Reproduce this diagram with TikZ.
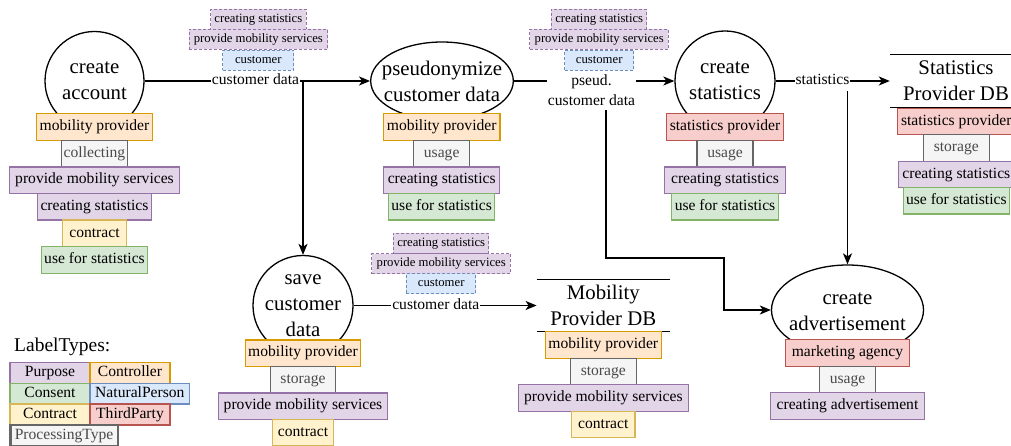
\documentclass[tikz,border=0pt]{standalone}
\usepackage{fontspec}
\setmainfont{Liberation Serif}
\usetikzlibrary{arrows.meta,shapes.geometric}

% label colours (fill / stroke)
\definecolor{purF}{HTML}{E1D5E7}\definecolor{purS}{HTML}{9673A6}
\definecolor{oraF}{HTML}{FFE6CC}\definecolor{oraS}{HTML}{D79B00}
\definecolor{greF}{HTML}{D5E8D4}\definecolor{greS}{HTML}{82B366}
\definecolor{bluF}{HTML}{DAE8FC}\definecolor{bluS}{HTML}{6C8EBF}
\definecolor{yelF}{HTML}{FFF2CC}\definecolor{yelS}{HTML}{D6B656}
\definecolor{redF}{HTML}{F8CECC}\definecolor{redS}{HTML}{B85450}
\definecolor{gryF}{HTML}{F5F5F5}\definecolor{gryS}{HTML}{666666}\definecolor{gryT}{HTML}{4A4A4A}

\newcommand{\procfont}{\fontsize{20.8}{26}\selectfont}
\newcommand{\tagfont}{\fontsize{15.6}{19.5}\selectfont}
\newcommand{\dtagfont}{\fontsize{12.7}{15}\selectfont}
\newcommand{\legfont}{\fontsize{19.5}{24}\selectfont}

\tikzset{
  flow/.style={line width=1.6pt, -{Stealth[length=11pt,width=9pt,inset=3pt]}},
  proc/.style={draw, line width=1.3pt, fill=white, inner sep=0pt},
  ntext/.style={font=\procfont, align=center, inner sep=0pt},
  elabel/.style={fill=white, inner sep=1pt, font=\tagfont, align=center},
  elabelone/.style={elabel, text height=11pt, text depth=4pt},
  tag/.style={draw, line width=1.2pt, inner sep=0pt, minimum height=26.5pt,
    font=\tagfont, text height=10.7pt, text depth=3.4pt, anchor=north},
  purp/.style={tag, fill=purF, draw=purS},
  ctrl/.style={tag, fill=oraF, draw=oraS},
  cons/.style={tag, fill=greF, draw=greS},
  cntr/.style={tag, fill=yelF, draw=yelS},
  thrd/.style={tag, fill=redF, draw=redS},
  ptype/.style={tag, fill=gryF, draw=gryS, text=gryT},
  dtag/.style={draw, line width=1pt, dash pattern=on 3pt off 2pt, inner sep=0pt,
    minimum height=20pt, font=\dtagfont, text height=8.7pt, text depth=2.8pt},
  dpurp/.style={dtag, fill=purF, draw=purS},
  dnatp/.style={dtag, fill=bluF, draw=bluS},
  leg/.style={draw, line width=1.4pt, inner sep=0pt, minimum height=20.8pt,
    font=\tagfont, text height=10.7pt, text depth=3.4pt, anchor=north west},
  dbline/.style={line width=1.3pt},
}

\begin{document}
\begin{tikzpicture}[x=1pt,y=-1pt]
\useasboundingbox (0,0) rectangle (1011,446);
\clip (0,0) rectangle (1011,446);

% processes
\node[proc, circle, minimum size=99pt] (acc) at (94.5,81) {};
\node[ntext] at (acc) {create\\account};
\node[proc, ellipse, minimum width=142.6pt, minimum height=78pt] (pseu) at (442,81) {};
\node[ntext] at (pseu) {pseudonymize\\customer data};
\node[proc, circle, minimum size=100pt] (stat) at (725,81) {};
\node[ntext] at (stat) {create\\statistics};
\node[proc, circle, minimum size=100pt] (save) at (303,305.5) {};
\node[ntext] at (save) {save\\customer\\data};
\node[proc, ellipse, minimum width=152pt, minimum height=90pt] (adv) at (847.5,310) {};
\node[ntext] at (847.5,312) {create\\advertisement};

% data stores
\node[ntext, minimum width=133pt, minimum height=52pt] (mdb) at (603.3,305.5) {Mobility\\Provider DB};
\draw[dbline] (mdb.north west) -- (mdb.north east) (mdb.south west) -- (mdb.south east);
\node[ntext, minimum width=132pt, minimum height=53pt] (sdb) at (956,81) {Statistics\\Provider DB};
\draw[dbline] (sdb.north west) -- (sdb.north east) (sdb.south west) -- (sdb.south east);

% data flows
\coordinate (p0) at (606,110);
\coordinate (p1) at (606,258);
\coordinate (p2) at (724,258);
\coordinate (s0) at (847.5,91.5);
\draw[flow] (acc.east) -- (pseu.west);
\draw[flow] (acc.east) -| (save.north);
\draw[flow] (pseu.east) -- (stat.west);
\draw[flow] (p0) -- (p1) -- (p2) |- (adv.west);
\draw[flow] (stat.east) -- (sdb.west);
\draw[flow] (s0) -- (adv.north);
\draw[flow] (save.east) -- (mdb.west);

% flow labels
\node[elabelone] (la) at (255.5,81) {customer data};
\node[elabel] (lb) at (591.5,90) {pseud.\\customer data};
\node[elabelone] (lc) at (822.5,81) {statistics};
\node[elabelone] (ld) at (435.8,305.5) {customer data};

% flow tags
\node[dpurp, minimum width=95.5pt] (ta1) at (258.3,19.3) {creating statistics};
\node[dpurp, minimum width=138.5pt] (ta2) at (258.3,39.3) {provide mobility services};
\node[dnatp, minimum width=71pt] (ta3) at (258.3,60.2) {customer};
\node[dpurp, minimum width=95.5pt] (tb1) at (599.2,19.3) {creating statistics};
\node[dpurp, minimum width=138.5pt] (tb2) at (599.2,39.3) {provide mobility services};
\node[dnatp, minimum width=69pt] (tb3) at (599.2,60.2) {customer};
\node[dpurp, minimum width=95.5pt] (tc1) at (441.2,243.5) {creating statistics};
\node[dpurp, minimum width=138.5pt] (tc2) at (441.2,263.8) {provide mobility services};
\node[dnatp, minimum width=69.5pt] (tc3) at (441.2,283.6) {customer};

% create account
\node[ctrl, minimum width=115.6pt] (a1) at (94.5,113.3) {mobility provider};
\node[ptype, minimum width=66.3pt] (a2) at (94.5,140) {collecting};
\node[purp, minimum width=170pt] (a3) at (94.5,166.5) {provide mobility services};
\node[purp, minimum width=114.6pt] (a4) at (94.5,193) {creating statistics};
\node[cntr, minimum width=63.3pt] (a5) at (94.5,219.5) {contract};
\node[cons, minimum width=105.4pt] (a6) at (94.5,246) {use for statistics};

% pseudonymize customer data
\node[ctrl, minimum width=116.7pt] (b1) at (441.7,113.3) {mobility provider};
\node[ptype, minimum width=56pt] (b2) at (441.7,140) {usage};
\node[purp, minimum width=116pt] (b3) at (441.7,166.5) {creating statistics};
\node[cons, minimum width=106pt] (b4) at (441.7,193) {use for statistics};

% create statistics
\node[thrd, minimum width=116.6pt] (c1) at (725,113.3) {statistics provider};
\node[ptype, minimum width=56pt] (c2) at (725,140) {usage};
\node[purp, minimum width=121.7pt] (c3) at (725,166.5) {creating statistics};
\node[cons, minimum width=106.6pt] (c4) at (725,193) {use for statistics};

% statistics provider db
\node[thrd, minimum width=117pt] (d1) at (956.3,107.8) {statistics provider};
\node[ptype, minimum width=66pt] (d2) at (956.3,134.3) {storage};
\node[purp, minimum width=116pt] (d3) at (956.3,160.6) {creating statistics};
\node[cons, minimum width=106pt] (d4) at (956.3,187) {use for statistics};

% save customer data
\node[ctrl, minimum width=114.6pt] (e1) at (303,339.3) {mobility provider};
\node[ptype, minimum width=64.6pt] (e2) at (303,366) {storage};
\node[purp, minimum width=169.4pt] (e3) at (303,392.3) {provide mobility services};
\node[cntr, minimum width=61.4pt] (e4) at (303,418.6) {contract};

% mobility provider db
\node[ctrl, minimum width=116pt] (f1) at (603.3,331) {mobility provider};
\node[ptype, minimum width=65.7pt] (f2) at (603.3,357.5) {storage};
\node[purp, minimum width=170pt] (f3) at (603.3,384) {provide mobility services};
\node[cntr, minimum width=63.3pt] (f4) at (603.3,410.5) {contract};

% create advertisement
\node[thrd, minimum width=123.6pt] (g1) at (847.5,339) {marketing agency};
\node[ptype, minimum width=55.7pt] (g2) at (847.5,365.6) {usage};
\node[purp, minimum width=154.7pt] (g3) at (847.5,392.2) {creating advertisement};

% legend
\node[font=\legfont, anchor=west, inner sep=0pt] (lt) at (14,346.7) {LabelTypes:};
\node[leg, fill=purF, draw=purS, minimum width=80pt] (k1) at (9.3,361.7) {Purpose};
\node[leg, fill=oraF, draw=oraS, minimum width=80pt] (k2) at (89.3,361.7) {Controller};
\node[leg, fill=greF, draw=greS, minimum width=80pt] (k3) at (9.3,382.5) {Consent};
\node[leg, fill=bluF, draw=bluS, minimum width=99.7pt] (k4) at (89.3,382.5) {NaturalPerson};
\node[leg, fill=yelF, draw=yelS, minimum width=80pt] (k5) at (9.3,403.3) {Contract};
\node[leg, fill=redF, draw=redS, minimum width=80pt] (k6) at (89.3,403.3) {ThirdParty};
\node[leg, fill=gryF, draw=gryS, text=gryT, line width=2.2pt, minimum width=107.4pt] (k7) at (9.3,424.1) {ProcessingType};
\end{tikzpicture}
\end{document}
